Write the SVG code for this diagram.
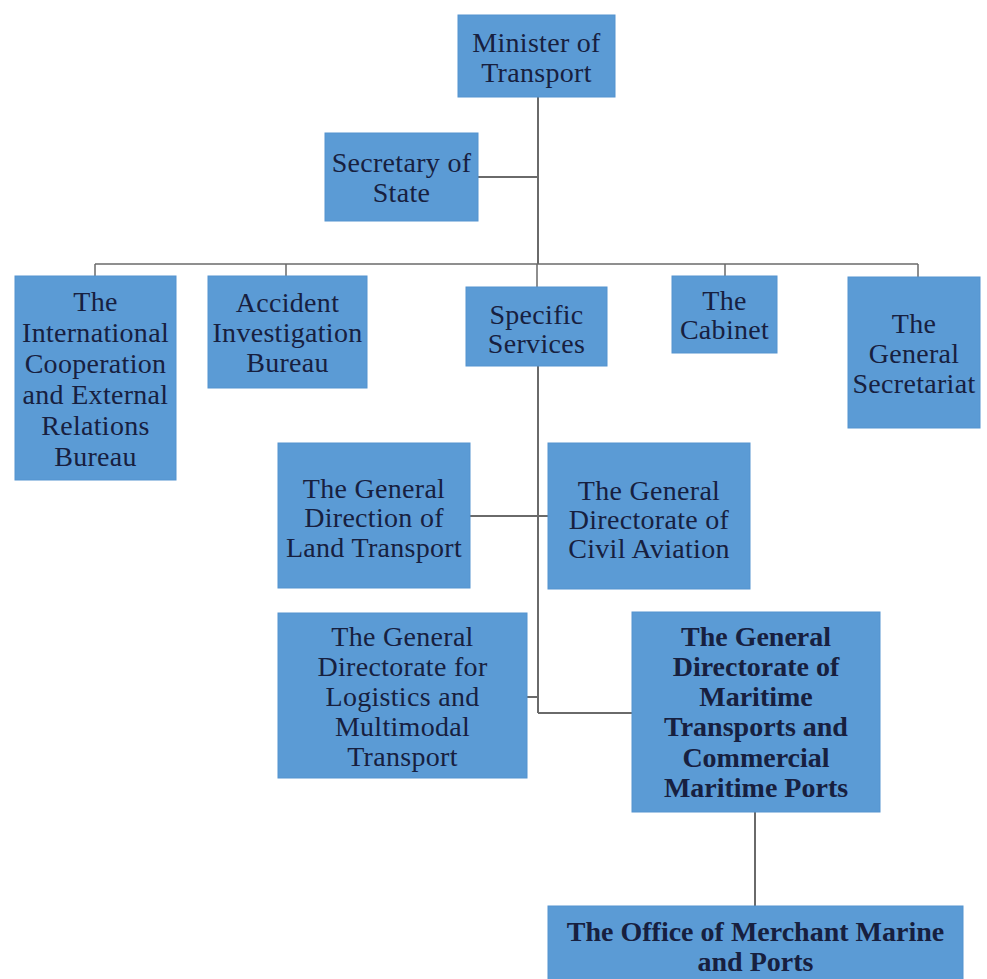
<svg xmlns="http://www.w3.org/2000/svg" width="987" height="979" viewBox="0 0 987 979">
<style>
.box{fill:#5b9bd5;stroke:#5593cf;stroke-width:1}
.t{font-family:"Liberation Serif","Times New Roman",serif;font-size:28px;letter-spacing:0.3px;fill:#17203f;text-anchor:middle;dominant-baseline:central}
.b{font-weight:bold;letter-spacing:0}
.ln{stroke:#6a6a6a;stroke-width:2;fill:none}
.thin{stroke-width:1.5}
</style>
<rect width="987" height="979" fill="#ffffff"/>
<g id="connectors">
<path class="ln" d="M538,97 V264"/>
<path class="ln" d="M478,177 H538"/>
<path class="ln thin" d="M95,264 H918"/>
<path class="ln thin" d="M95,264 V276 M286,264 V276 M537,264 V287 M725,264 V276 M918,264 V277"/>
<path class="ln" d="M538,366 V713"/>
<path class="ln" d="M470,516 H548"/>
<path class="ln" d="M527,697 H538"/>
<path class="ln" d="M538,713 H632"/>
<path class="ln" d="M755,812 V906"/>
</g>
<g id="minister">
<rect class="box" x="458" y="15" width="157" height="82"/>
<text class="t" x="536.5" y="42">Minister of</text>
<text class="t" x="536.5" y="72">Transport</text>
</g>
<g id="secretary">
<rect class="box" x="325" y="133" width="153" height="88"/>
<text class="t" x="401.5" y="162">Secretary of</text>
<text class="t" x="401.5" y="192">State</text>
</g>
<g id="international">
<rect class="box" x="15" y="276" width="161" height="204"/>
<text class="t" x="95.5" y="301">The</text>
<text class="t" x="95.5" y="332">International</text>
<text class="t" x="95.5" y="363">Cooperation</text>
<text class="t" x="95.5" y="394">and External</text>
<text class="t" x="95.5" y="425">Relations</text>
<text class="t" x="95.5" y="456">Bureau</text>
</g>
<g id="accident">
<rect class="box" x="208" y="276" width="159" height="112"/>
<text class="t" x="287.5" y="302">Accident</text>
<text class="t" x="287.5" y="332">Investigation</text>
<text class="t" x="287.5" y="362">Bureau</text>
</g>
<g id="specific">
<rect class="box" x="466" y="287" width="141" height="79"/>
<text class="t" x="536.5" y="314">Specific</text>
<text class="t" x="536.5" y="343">Services</text>
</g>
<g id="cabinet">
<rect class="box" x="672" y="276" width="105" height="77"/>
<text class="t" x="724.5" y="300">The</text>
<text class="t" x="724.5" y="329">Cabinet</text>
</g>
<g id="secretariat">
<rect class="box" x="848" y="277" width="132" height="151"/>
<text class="t" x="914" y="323">The</text>
<text class="t" x="914" y="353">General</text>
<text class="t" x="914" y="383">Secretariat</text>
</g>
<g id="land">
<rect class="box" x="278" y="443" width="192" height="145"/>
<text class="t" x="374" y="488">The General</text>
<text class="t" x="374" y="517">Direction of</text>
<text class="t" x="374" y="547">Land Transport</text>
</g>
<g id="civil">
<rect class="box" x="548" y="443" width="202" height="146"/>
<text class="t" x="649" y="490">The General</text>
<text class="t" x="649" y="519">Directorate of</text>
<text class="t" x="649" y="548">Civil Aviation</text>
</g>
<g id="logistics">
<rect class="box" x="278" y="613" width="249" height="165"/>
<text class="t" x="402.5" y="636">The General</text>
<text class="t" x="402.5" y="666">Directorate for</text>
<text class="t" x="402.5" y="696">Logistics and</text>
<text class="t" x="402.5" y="726">Multimodal</text>
<text class="t" x="402.5" y="756">Transport</text>
</g>
<g id="maritime">
<rect class="box" x="632" y="612" width="248" height="200"/>
<text class="t b" x="756" y="636">The General</text>
<text class="t b" x="756" y="666">Directorate of</text>
<text class="t b" x="756" y="696">Maritime</text>
<text class="t b" x="756" y="726">Transports and</text>
<text class="t b" x="756" y="757">Commercial</text>
<text class="t b" x="756" y="787">Maritime Ports</text>
</g>
<g id="office">
<rect class="box" x="548" y="906" width="415" height="80"/>
<text class="t b" x="755.5" y="931">The Office of Merchant Marine</text>
<text class="t b" x="755.5" y="961">and Ports</text>
</g>
</svg>
